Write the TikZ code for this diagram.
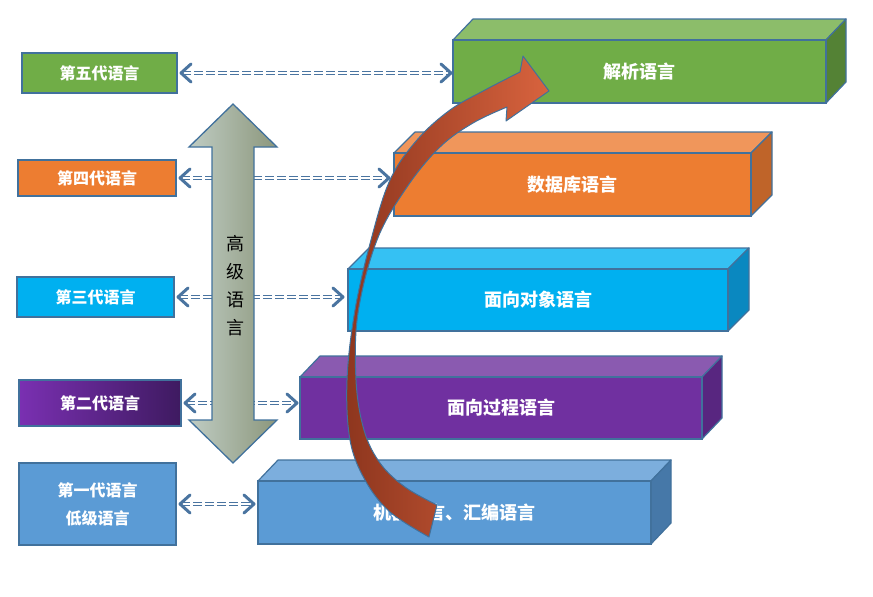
\documentclass[tikz,border=0pt]{standalone}
\usepackage{fontspec}
\newfontfamily\cjk{Noto Sans CJK SC}
\usetikzlibrary{arrows.meta,calc}
\definecolor{edge}{HTML}{41719C}
\definecolor{conn}{HTML}{4A74A0}
\definecolor{gF}{HTML}{70AD47}\definecolor{gT}{HTML}{8CBD6A}\definecolor{gS}{HTML}{548235}
\definecolor{oF}{HTML}{ED7D31}\definecolor{oT}{HTML}{F0965B}\definecolor{oS}{HTML}{BF6429}
\definecolor{cF}{HTML}{00B0F0}\definecolor{cT}{HTML}{35C1F3}\definecolor{cS}{HTML}{0A88C0}
\definecolor{pF}{HTML}{7030A0}\definecolor{pT}{HTML}{8A5AB0}\definecolor{pS}{HTML}{582680}
\definecolor{bF}{HTML}{5B9BD5}\definecolor{bT}{HTML}{7CAEDD}\definecolor{bS}{HTML}{4678A8}
\definecolor{pL}{HTML}{7A30B2}\definecolor{pR}{HTML}{3E1A60}
\definecolor{aL}{HTML}{BFCCC3}\definecolor{aR}{HTML}{8C977C}
\definecolor{rD}{HTML}{8E361E}\definecolor{rL}{HTML}{D8633E}
\tikzset{
  lbox/.style={draw=edge, line width=2.5pt, inner sep=0pt, outer sep=0pt, anchor=north west,
    text=white, align=center, font=\cjk\bfseries\fontsize{16}{28}\selectfont},
  fbox/.style={draw=edge, line width=1.2pt, inner sep=0pt, outer sep=0pt, anchor=north west,
    text=white, font=\cjk\bfseries\fontsize{18}{20}\selectfont},
  face/.style={draw=edge, line width=1.2pt, line join=round},
  dconn/.style={draw=conn, double=white, double distance=1.6pt, line width=1.1pt,
    dash pattern=on 9pt off 3pt},
  chev/.style={draw=conn, line width=3pt, line join=round, line cap=round},
  bigarrow/.style={draw=edge, line width=1.3pt, line join=miter, left color=aL, right color=aR},
  curvearrow/.style={draw=edge, line width=1pt, line join=round, left color=rD, right color=rL}
}
\newcommand\cuboid[4]{% name, top colour, side colour, depth
  \draw[face, fill=#2] (#1.north west) -- ([shift={(#4,-21)}]#1.north west) -- ([shift={(#4,-21)}]#1.north east) -- (#1.north east) -- cycle;
  \draw[face, fill=#3] (#1.north east) -- ([shift={(#4,-21)}]#1.north east) -- ([shift={(#4,-21)}]#1.south east) -- (#1.south east) -- cycle;
}
\newcommand\linkit[3]{% left node, right node, gap before right node
  \coordinate (#1e) at ([xshift=-#3]#1.east -| #2.west);
  \draw[dconn] ([xshift=5pt]#1.east) -- ([xshift=-2pt]#1e);
  \draw[chev] ([shift={(14,-9)}]#1.east) -- ([xshift=4pt]#1.east) -- ([shift={(14,9)}]#1.east);
  \draw[chev] ([shift={(-11,-9)}]#1e) -- ([xshift=-1pt]#1e) -- ([shift={(-11,9)}]#1e);
}
\begin{document}
\begin{tikzpicture}[x=1pt,y=-1pt]
\useasboundingbox (0,0) rectangle (873,597);

% left boxes
\node[lbox, fill=gF, minimum width=155pt, minimum height=40pt] (l5) at (22,53) {第五代语言};
\node[lbox, fill=oF, minimum width=158pt, minimum height=36pt] (l4) at (18,160) {第四代语言};
\node[lbox, fill=cF, minimum width=157pt, minimum height=40pt] (l3) at (17,277) {第三代语言};
\node[lbox, left color=pL, right color=pR, minimum width=162pt, minimum height=46pt] (l2) at (19,380) {第二代语言};
\node[lbox, fill=bF, minimum width=157pt, minimum height=82pt] (l1) at (19,463) {第一代语言\\低级语言};

% right 3D boxes
\node[fbox, fill=gF, minimum width=373pt, minimum height=63pt] (r5) at (453,40) {};
\cuboid{r5}{gT}{gS}{20}
\node[fbox, fill=gF, minimum width=373pt, minimum height=63pt] at (453,40) {解析语言};

\node[fbox, fill=oF, minimum width=357pt, minimum height=63pt] (r4) at (394,153) {};
\cuboid{r4}{oT}{oS}{21}
\node[fbox, fill=oF, minimum width=357pt, minimum height=63pt] at (394,153) {数据库语言};

\node[fbox, fill=cF, minimum width=380pt, minimum height=62pt] (r3) at (348,269) {};
\cuboid{r3}{cT}{cS}{21}
\node[fbox, fill=cF, minimum width=380pt, minimum height=62pt] at (348,269) {面向对象语言};

\node[fbox, fill=pF, minimum width=402pt, minimum height=62pt] (r2) at (300,377) {};
\cuboid{r2}{pT}{pS}{20}
\node[fbox, fill=pF, minimum width=402pt, minimum height=62pt] at (300,377) {面向过程语言};

\node[fbox, fill=bF, minimum width=393pt, minimum height=63pt] (r1) at (258,481) {};
\cuboid{r1}{bT}{bS}{20}
\node[fbox, fill=bF, minimum width=393pt, minimum height=63pt] at (258,481) {机器语言、汇编语言};

% dashed double connectors
\linkit{l5}{r5}{1pt}
\linkit{l4}{r4}{4pt}
\linkit{l3}{r3}{4pt}
\linkit{l2}{r2}{2pt}
\linkit{l1}{r1}{3pt}

% vertical double arrow
\draw[bigarrow] (233,104) -- (277,147) -- (254,147) -- (254,420) -- (277,420) -- (233,463)
  -- (189,420) -- (212,420) -- (212,147) -- (189,147) -- cycle;
\node[font=\cjk\fontsize{18}{28}\selectfont, align=center, text=black] (hl) at (235,286) {高\\级\\语\\言};

% curved arrow
\draw[curvearrow] (520,72)
  -- plot[smooth, tension=0.6] coordinates {(520,72) (485,90) (450,110) (417,140) (390,180) (371,240) (355,310) (347,380) (350,440) (365,480) (390,512) (429,537)}
  -- (437,505)
  -- plot[smooth, tension=0.6] coordinates {(437,505) (405,487) (380,463) (364,430) (356,380) (358,313) (377,240) (407,187) (440,147) (473,123) (507,107)}
  -- (506,121) -- (549,91) -- (523,56) -- cycle;
\end{tikzpicture}
\end{document}
